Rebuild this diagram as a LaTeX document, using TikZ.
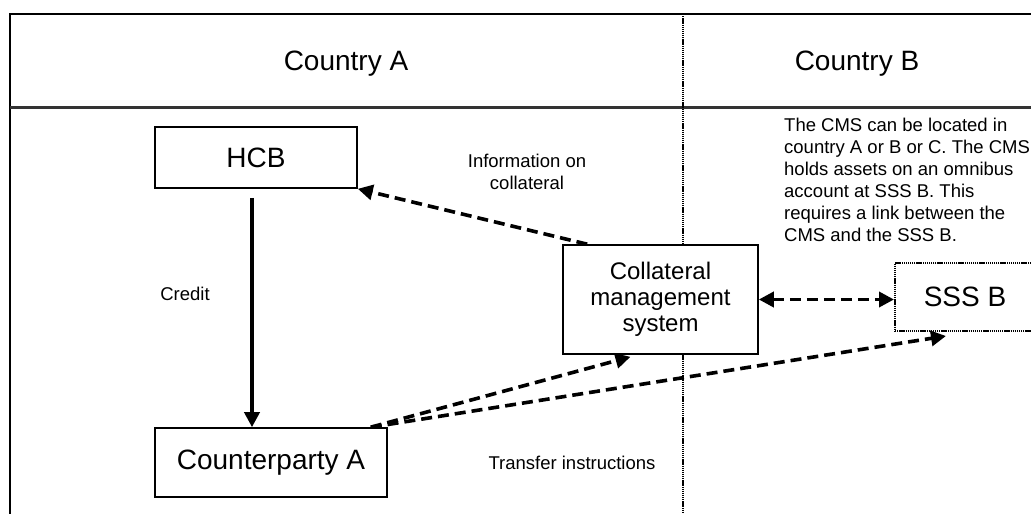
\documentclass[tikz,border=0pt]{standalone}
\usepackage{fontspec}
\setmainfont{Liberation Sans}
\usetikzlibrary{arrows.meta,calc}
\begin{document}
\begin{tikzpicture}[x=1pt,y=-1pt,
  box/.style={draw,fill=white,line width=1.6pt,inner sep=0pt,font=\fontsize{28}{32}\selectfont},
  head/.style={font=\fontsize{28}{32}\selectfont,inner sep=0pt},
  small/.style={font=\fontsize{18.5}{22}\selectfont,inner sep=0pt},
  fine dots/.style={line width=2pt,dash pattern=on 1.3pt off 0.8pt},
  tip/.style={-{Triangle[length=15pt,width=15pt]}},
  flow/.style={line width=3.6pt,dash pattern=on 11pt off 6pt,tip},
  twoway/.style={line width=3.6pt,dash pattern=on 11pt off 6pt,
    {Triangle[length=15pt,width=15pt]}-{Triangle[length=15pt,width=15pt]}}]
\useasboundingbox (0,0) rectangle (1031,514);
\fill[white] (0,0) rectangle (1031,514);

% frame, header rule and the border between the countries
\draw[line width=2.6pt] (10,540) -- (10,14) -- (1045,14);
\draw[line width=2.2pt,black!80] (10,107.5) -- (1045,107.5);
\draw[fine dots] (683,14) -- (683,540);

\node[head] (ca) at (346,64) {Country A};
\node[head] (cb) at (857,64) {Country B};

% boxes
\node[box,minimum width=202pt,minimum height=61pt] (hcb) at (256,157.5) {HCB};
\node[box,minimum width=232pt,minimum height=69pt] (cp) at (271,462.5) {Counterparty A};
\node[box,minimum width=195pt,minimum height=109pt,align=center,
      font=\fontsize{24}{26}\selectfont] (cms) at (660.5,299.5)
      {Collateral\\management\\system};
\node[draw,fill=white,fine dots,inner sep=0pt,
      minimum width=140pt,minimum height=68pt,font=\fontsize{28}{32}\selectfont]
      (sss) at (965,297) {SSS B};

% labels
\node[small] (credit) at (185,294) {Credit};
\node[small,align=center] (info) at (527,172) {Information on\\collateral};
\node[small] (transfer) at (572,463) {Transfer instructions};
\node[small,align=left,anchor=north west] (note) at (784,118)
  {The CMS can be located in\\country A or B or C. The CMS\\holds assets on an omnibus\\account at SSS B. This\\requires a link between the\\CMS and the SSS B.};

% connectors
\draw[line width=3.6pt,tip] ([xshift=-4pt,yshift=-9pt]hcb.south) -- ([xshift=-19pt]cp.north);
\draw[flow] ([xshift=25pt]cms.north west) -- (hcb.south east);
\draw[twoway] (cms.east) -- (cms.east -| sss.west);
\draw[flow] ([xshift=-17pt]cp.north east) -- ([xshift=-30pt,yshift=-2pt]cms.south);
\draw[flow] ([xshift=-17pt]cp.north east) -- ([xshift=52pt,yshift=-4pt]sss.south west);
\end{tikzpicture}
\end{document}
